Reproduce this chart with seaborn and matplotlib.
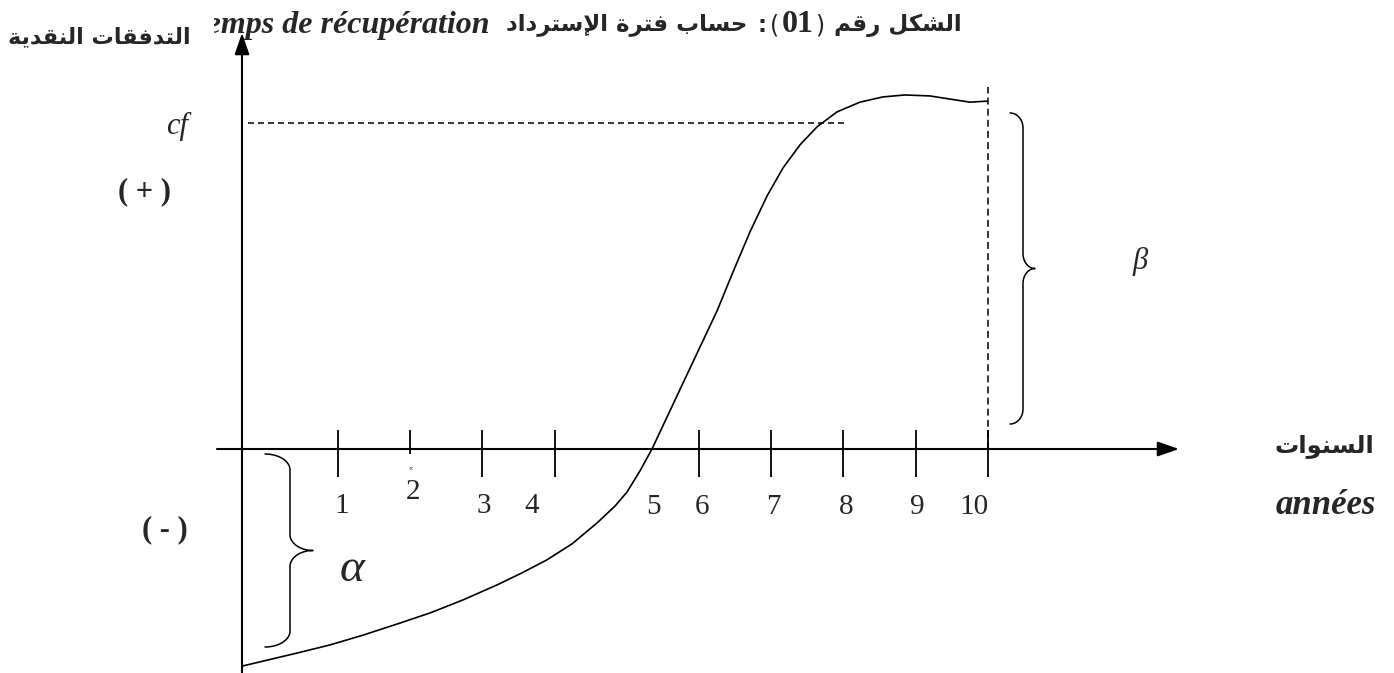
import numpy as np
import matplotlib
matplotlib.use("Agg")
import matplotlib.pyplot as plt
from matplotlib.patches import Rectangle
import seaborn as sns

# ---- data -------------------------------------------------------------
# cumulative cash flow curve (years, cash-flow units where cf = 100)
years = [-0.330, 0.432, 0.889, 1.346, 1.817, 2.274, 2.731, 3.202, 3.548,
         3.895, 4.241, 4.587, 4.837, 5.003, 5.183, 5.349, 5.557, 5.778,
         6.014, 6.249, 6.471, 6.706, 6.942, 7.163, 7.399, 7.634, 7.911,
         8.230, 8.548, 8.853, 9.199, 9.546, 9.753, 9.989]
cash_flow = [-66.6, -62.6, -60.1, -57.1, -53.7, -50.3, -46.3, -41.7, -38.0,
             -34.0, -29.1, -22.7, -17.5, -13.2, -6.7, 0.0, 9.8, 20.2, 31.3,
             42.3, 54.3, 66.6, 77.6, 86.2, 93.3, 98.8, 103.4, 106.4, 108.0,
             108.6, 108.3, 107.1, 106.4, 106.7]
cf_level = 100
horizon = 10

tick_years = [1, 2, 3, 4, 6, 7, 8, 9, 10]
year_labels = ["1", "2", "3", "4", "5", "6", "7", "8", "9", "10"]

title_ar_left = "حساب فترة الإسترداد"
title_ar_right = "الشكل رقم"
title_num = "01"
title_fr = "Temps de récupération"
y_label_ar = "التدفقات النقدية"
x_label_ar = "السنوات"
x_label_fr = "années"

# ---- minimal Arabic shaping (presentation forms, visual order) --------
FORMS = {  # isolated, final, initial, medial
    "ا": ("\uFE8D", "\uFE8E", None, None),
    "إ": ("\uFE87", "\uFE88", None, None),
    "ب": ("\uFE8F", "\uFE90", "\uFE91", "\uFE92"),
    "ة": ("\uFE93", "\uFE94", None, None),
    "ت": ("\uFE95", "\uFE96", "\uFE97", "\uFE98"),
    "ح": ("\uFEA1", "\uFEA2", "\uFEA3", "\uFEA4"),
    "د": ("\uFEA9", "\uFEAA", None, None),
    "ر": ("\uFEAD", "\uFEAE", None, None),
    "س": ("\uFEB1", "\uFEB2", "\uFEB3", "\uFEB4"),
    "ش": ("\uFEB5", "\uFEB6", "\uFEB7", "\uFEB8"),
    "ف": ("\uFED1", "\uFED2", "\uFED3", "\uFED4"),
    "ق": ("\uFED5", "\uFED6", "\uFED7", "\uFED8"),
    "ك": ("\uFED9", "\uFEDA", "\uFEDB", "\uFEDC"),
    "ل": ("\uFEDD", "\uFEDE", "\uFEDF", "\uFEE0"),
    "م": ("\uFEE1", "\uFEE2", "\uFEE3", "\uFEE4"),
    "ن": ("\uFEE5", "\uFEE6", "\uFEE7", "\uFEE8"),
    "و": ("\uFEED", "\uFEEE", None, None),
    "ي": ("\uFEF1", "\uFEF2", "\uFEF3", "\uFEF4"),
}
LAM_ALEF = {"ا": ("\uFEFB", "\uFEFC"), "إ": ("\uFEF9", "\uFEFA")}


def shape_word(word):
    units, i = [], 0
    while i < len(word):
        if word[i] == "ل" and i + 1 < len(word) and word[i + 1] in LAM_ALEF:
            units.append(("LA", word[i + 1]))
            i += 2
        else:
            units.append(("C", word[i]))
            i += 1
    out = []
    for k, (kind, ch) in enumerate(units):
        prev = units[k - 1] if k > 0 else None
        prev_joins = prev is not None and prev[0] == "C" and FORMS[prev[1]][2] is not None
        if kind == "LA":
            iso, fin = LAM_ALEF[ch]
            out.append(fin if prev_joins else iso)
            continue
        iso, fin, ini, med = FORMS[ch]
        joins_next = ini is not None and k + 1 < len(units)
        if prev_joins and joins_next:
            out.append(med)
        elif prev_joins:
            out.append(fin)
        elif joins_next:
            out.append(ini)
        else:
            out.append(iso)
    return "".join(reversed(out))


def ar(text):
    return " ".join(shape_word(w) for w in reversed(text.split()))


# ---- figure -----------------------------------------------------------
sns.set_theme(style="white")
plt.rcParams["font.family"] = ["Liberation Serif", "DejaVu Sans"]
plt.rcParams["lines.scale_dashes"] = False

W, H = 1394, 673
fig = plt.figure(figsize=(W / 100, H / 100), dpi=100)
ax = fig.add_axes([0, 0, 1, 1])

# layout scale: pixel column of year 0, pixels per year, pixel row of zero
X0, SX = 265.8, 72.2
Y0, SY = 449.0, 3.26


def P(px, py):
    return (px - X0) / SX, (Y0 - py) / SY


ax.set_xlim(P(0, 0)[0], P(W, 0)[0])
ax.set_ylim(P(0, H)[1], P(0, 0)[1])
ax.axis("off")

AX_LW = 1.5
ink = "black"
ARABIC = ["DejaVu Sans"]

# axes with arrow heads
x_axis_start = P(217, 0)[0]
x_axis_tip = P(1179, 0)[0]
y_axis_x = P(242, 0)[0]
arrow = dict(arrowstyle="-|>,head_length=1.3,head_width=0.45",
             mutation_scale=10, lw=AX_LW, color=ink, shrinkA=0, shrinkB=0)
ax.annotate("", xy=(x_axis_tip, 0), xytext=(x_axis_start, 0), arrowprops=arrow)
ax.annotate("", xy=(y_axis_x, P(0, 33)[1]), xytext=(y_axis_x, P(0, H + 5)[1]),
            arrowprops=arrow)

# tick marks on the time axis
tick_top = P(0, 430)[1]
tick_bottom = [P(0, 454)[1] if t == 2 else P(0, 477)[1] for t in tick_years]
ax.vlines(tick_years, tick_bottom, tick_top, color=ink, lw=1.3)
ax.text(2, P(0, 468)[1], "∝", fontsize=4, ha="center", va="center",
        family=ARABIC)

label_px = [342, 413, 484, 532, 653, 702, 773, 846, 917, 974]
label_py = [506, 492, 506, 506, 507, 507, 507, 507, 507, 507]
for lab, lx, ly in zip(year_labels, label_px, label_py):
    ax.text(*P(lx, ly), lab, fontsize=21, ha="center", va="center")

# cash-flow curve
sns.lineplot(x=years, y=cash_flow, color=ink, lw=1.2, ax=ax)

# reference lines
ax.hlines(cf_level, P(248, 0)[0], P(845, 0)[0], color=ink, lw=1.1,
          linestyles=(0, (4.3, 2.9)))
ax.vlines(horizon, 0, P(0, 87)[1], color=ink, lw=1.1,
          linestyles=(0, (5.0, 3.0)))


def brace(x_tip, x_spine, x_point, y_top, y_bottom, r):
    y_mid = 0.5 * (y_top + y_bottom)
    t = np.linspace(0, np.pi / 2, 30)
    rx1 = x_spine - x_tip
    rx2 = x_point - x_spine
    xs, ys = [], []
    xs += list(x_tip + rx1 * np.sin(t)); ys += list(y_top + r - r * np.cos(t))
    xs += list(x_point - rx2 * np.cos(t)); ys += list(y_mid - r + r * np.sin(t))
    xs += list(x_point - rx2 * np.cos(t[::-1])); ys += list(y_mid + r - r * np.sin(t[::-1]))
    xs += list(x_tip + rx1 * np.sin(t[::-1])); ys += list(y_bottom - r + r * np.cos(t[::-1]))
    pts = np.array([P(a, b) for a, b in zip(xs, ys)])
    ax.plot(pts[:, 0], pts[:, 1], color=ink, lw=1.1, solid_capstyle="round")


brace(1010, 1023, 1035, 113, 424, 15)
brace(265, 290, 313, 454, 647, 16)

# greek labels and signs
ax.text(*P(1140, 262), "β", fontsize=22, style="italic", ha="center", va="center")
ax.text(*P(352, 570), "α", fontsize=34, style="italic", ha="center", va="center")
ax.text(*P(177, 126), "cf", fontsize=22, style="italic", ha="center", va="center")
ax.text(*P(145, 192), "( + )", fontsize=22, weight="bold", ha="center", va="center")
ax.text(*P(165, 530), "( - )", fontsize=22, weight="bold", ha="center", va="center")

# axis titles
ax.text(*P(1324, 446), ar(x_label_ar), fontsize=17.5, weight="bold",
        ha="center", va="center", family=ARABIC)
ax.text(*P(1326, 505), x_label_fr, fontsize=25, weight="bold", style="italic",
        ha="center", va="center")

# heading: French part, partly covered by the text box of the y label
ax.text(*P(489, 25), title_fr, fontsize=23, weight="bold", style="italic",
        ha="right", va="center", zorder=3)
bx0, by0 = P(0, 50)
bx1, by1 = P(214, 6)
ax.add_patch(Rectangle((bx0, by0), bx1 - bx0, by1 - by0, facecolor="white",
                       edgecolor="none", zorder=4))
ax.text(*P(8, 37), ar(y_label_ar), fontsize=16, weight="bold",
        ha="left", va="center", family=ARABIC, zorder=5)

# heading: Arabic part, laid out from right to left
renderer = fig.canvas.get_renderer()
inv = ax.transData.inverted()
y_title = P(0, 25)[1]
pieces = [
    (ar(title_ar_right), dict(fontsize=16.5, weight="bold", family=ARABIC), 10),
    (")", dict(fontsize=17, family=ARABIC), 2),
    (title_num, dict(fontsize=23, weight="bold"), 2),
    ("(", dict(fontsize=17, family=ARABIC), 4),
    (":", dict(fontsize=16.5, weight="bold", family=ARABIC), 10),
    (ar(title_ar_left), dict(fontsize=16.5, weight="bold", family=ARABIC), 0),
]
x_right = 962.0
for txt, kw, gap in pieces:
    t = ax.text(P(x_right, 0)[0], y_title, txt, ha="right", va="center", **kw)
    bb = t.get_window_extent(renderer=renderer)
    x_right = bb.x0 - gap

fig.savefig("out.png", dpi=100, facecolor="white")
